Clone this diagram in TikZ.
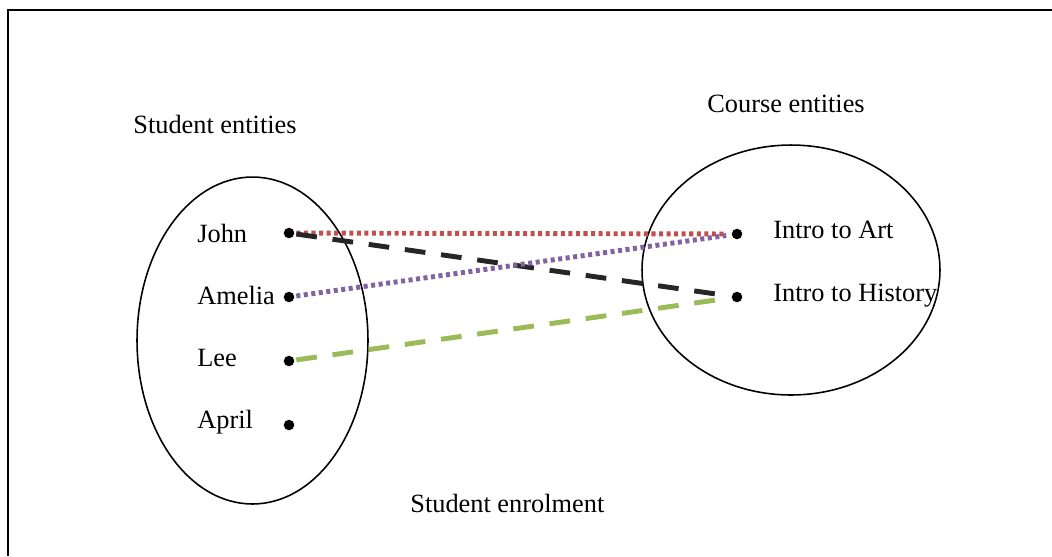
\documentclass[tikz,border=0pt]{standalone}
\usepackage{fontspec}
\setmainfont{Liberation Serif}
\usetikzlibrary{shapes.geometric, positioning}
\definecolor{linkred}{RGB}{192,80,77}
\definecolor{linkpurple}{RGB}{128,100,162}
\definecolor{linkgreen}{RGB}{155,187,89}
\definecolor{linkdark}{RGB}{38,38,38}
\tikzset{
  setring/.style={ellipse, draw=black, line width=0.9pt, inner sep=0pt},
  member/.style={circle, fill=black, minimum size=6pt, inner sep=0pt},
  label/.style={anchor=base west, inner sep=0pt, font=\fontsize{15}{18}\selectfont},
  dotlink/.style={line width=2.8pt, dash pattern=on 2.3pt off 2pt, shorten >=3pt, shorten <=1pt},
  dashlink/.style={line width=2.8pt, dash pattern=on 11.8pt off 9pt, shorten >=3pt, shorten <=1pt},
  frame/.style={line width=1.4pt, color=black}
}
\begin{document}
\begin{tikzpicture}[x=0.02cm, y=-0.02cm]
  \useasboundingbox (0,0) rectangle (1052,556);
  % Frame
  \draw[frame] (1052,10) -- (8,10) -- (8,556);
  % Sets
  \node[setring, minimum width=4.62cm, minimum height=6.54cm] (students) at (252.5,340.5) {};
  \node[setring, minimum width=5.96cm, minimum height=5.0cm] (courses) at (791,270) {};
  \node[label] (sthead) at (133,133) {Student entities};
  \node[label] (cohead) at (707,112) {Course entities};
  \node[label] (enrol) at (410,512) {Student enrolment};
  % Students
  \node[label] (johnl) at (197,242) {John};
  \node[label] (amelial) at (197,304) {Amelia};
  \node[label] (leel) at (197,366) {Lee};
  \node[label] (aprill) at (197,428) {April};
  \node[member] (john) at (289,233) {};
  \node[member] (amelia) at (289,297) {};
  \node[member] (lee) at (289,361) {};
  \node[member] (april) at (289,425) {};
  % Courses
  \node[label] (artl) at (773,238) {Intro to Art};
  \node[label] (histl) at (773,301) {Intro to History};
  \node[member] (art) at (737,234) {};
  \node[member] (hist) at (737,297) {};
  % Enrolments
  \draw[dotlink, color=linkred] (john) -- (art);
  \draw[dashlink, color=linkdark] (john) -- (hist);
  \draw[dotlink, color=linkpurple] (amelia) -- (art);
  \draw[dashlink, color=linkgreen] (lee) -- (hist);
\end{tikzpicture}
\end{document}
